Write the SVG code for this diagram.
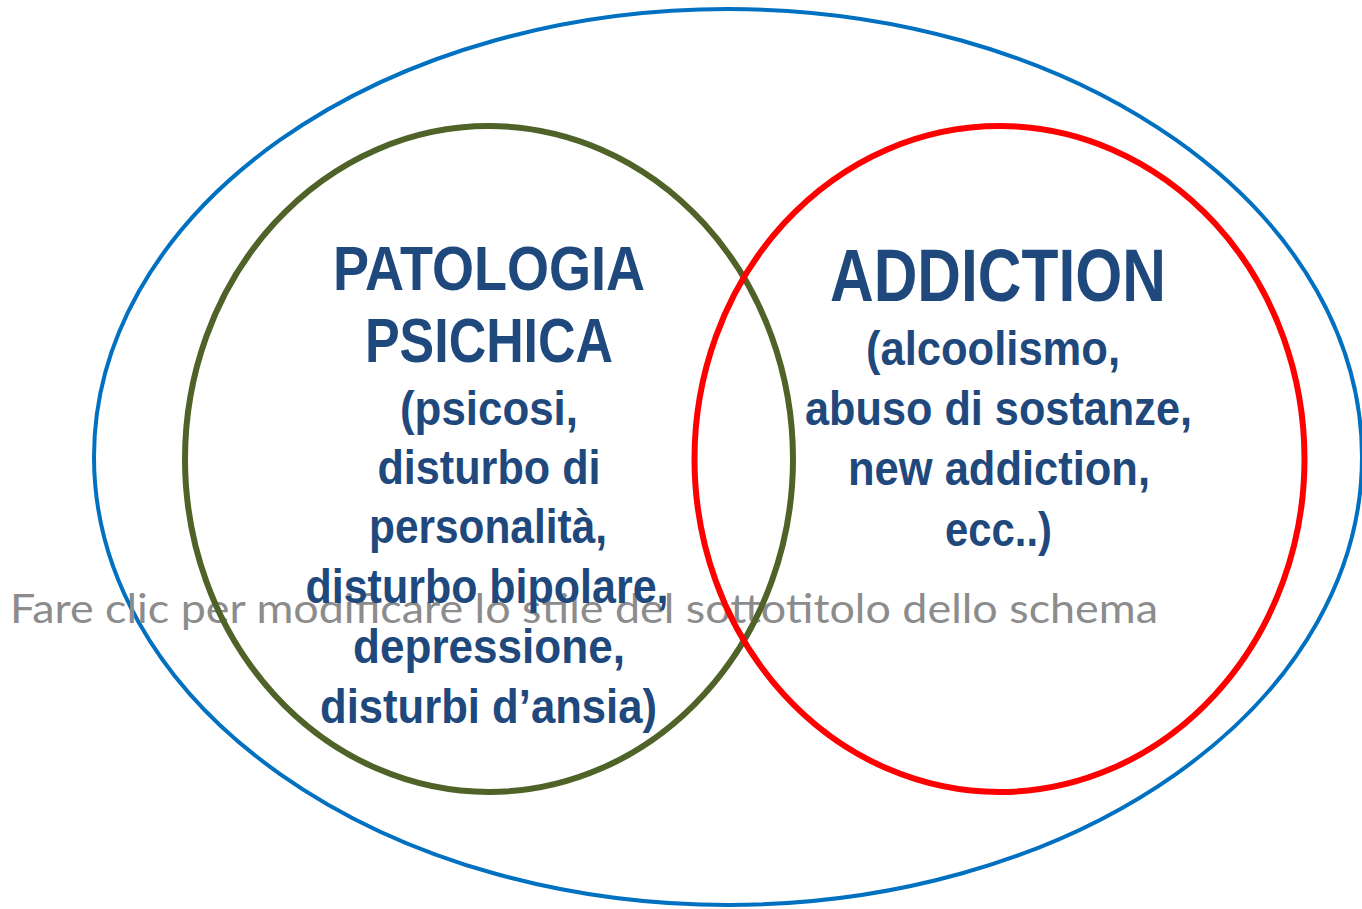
<svg xmlns="http://www.w3.org/2000/svg" width="1362" height="909" viewBox="0 0 1362 909">
  <style>
    .t { font-family: "Liberation Sans Narrow", "Liberation Sans", Arial, sans-serif; font-weight: bold; fill: #1F497D; text-anchor: middle; }
    .s { font-size: 49px; }
    .sub { font-family: Lato, "Open Sans", sans-serif; font-size: 41px; fill: #8C8C8C; }
  </style>
  <rect width="1362" height="909" fill="#FFFFFF"/>
  <g id="outer">
    <ellipse cx="728" cy="457" rx="634" ry="448" fill="none" stroke="#0070C0" stroke-width="4"/>
  </g>
  <g id="subtitle">
    <text class="sub" x="10" y="623" textLength="1148" lengthAdjust="spacingAndGlyphs">Fare clic per modificare lo stile del sottotitolo dello schema</text>
  </g>
  <g id="patologia">
    <ellipse cx="489" cy="459" rx="304" ry="333" fill="none" stroke="#4F6228" stroke-width="6"/>
  </g>
  <g id="addiction">
    <ellipse cx="999.5" cy="459" rx="305" ry="333" fill="none" stroke="#FF0000" stroke-width="6"/>
  </g>
  <g id="patologia-label">
    <text class="t" x="489" y="290" font-size="63" textLength="312" lengthAdjust="spacingAndGlyphs">PATOLOGIA</text>
    <text class="t" x="489" y="362" font-size="63" textLength="248" lengthAdjust="spacingAndGlyphs">PSICHICA</text>
    <text class="t s" x="489" y="425" textLength="178" lengthAdjust="spacingAndGlyphs">(psicosi,</text>
    <text class="t s" x="489" y="484" textLength="223" lengthAdjust="spacingAndGlyphs">disturbo di</text>
    <text class="t s" x="488" y="543" textLength="238" lengthAdjust="spacingAndGlyphs">personalità,</text>
    <text class="t s" x="487" y="603" textLength="363" lengthAdjust="spacingAndGlyphs">disturbo bipolare,</text>
    <text class="t s" x="489" y="663" textLength="272" lengthAdjust="spacingAndGlyphs">depressione,</text>
    <text class="t s" x="488.5" y="723" textLength="337" lengthAdjust="spacingAndGlyphs">disturbi d’ansia)</text>
  </g>
  <g id="addiction-label">
    <text class="t" x="998" y="301" font-size="74" textLength="336" lengthAdjust="spacingAndGlyphs">ADDICTION</text>
    <text class="t s" x="993" y="365" textLength="254" lengthAdjust="spacingAndGlyphs">(alcoolismo,</text>
    <text class="t s" x="998.5" y="425" textLength="387" lengthAdjust="spacingAndGlyphs">abuso di sostanze,</text>
    <text class="t s" x="999" y="485" textLength="302" lengthAdjust="spacingAndGlyphs">new addiction,</text>
    <text class="t s" x="998.5" y="546" textLength="107" lengthAdjust="spacingAndGlyphs">ecc..)</text>
  </g>
  <g id="connectors"/>
</svg>
